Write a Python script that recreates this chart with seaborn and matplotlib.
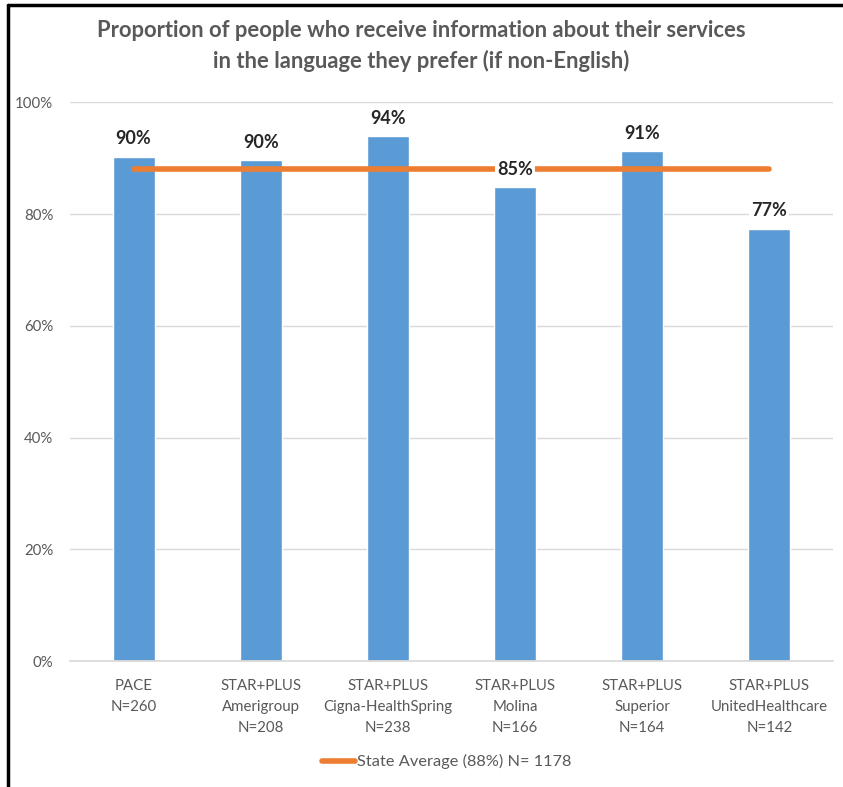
import matplotlib
matplotlib.use("Agg")
import matplotlib.pyplot as plt
from matplotlib.lines import Line2D
import seaborn as sns
import pandas as pd

categories = ["PACE\nN=260", "STAR+PLUS\nAmerigroup\nN=208", "STAR+PLUS\nCigna-HealthSpring\nN=238",
              "STAR+PLUS\nMolina\nN=166", "STAR+PLUS\nSuperior\nN=164", "STAR+PLUS\nUnitedHealthcare\nN=142"]
values = [90.2, 89.6, 93.9, 84.8, 91.2, 77.3]
labels = ["90%", "90%", "94%", "85%", "91%", "77%"]
state_avg = 88.0
legend_label = "State Average (88%) N= 1178"
title = "Proportion of people who receive information about their services\nin the language they prefer (if non-English)"

sns.set_theme(style="white")
plt.rcParams['font.family'] = ['Lato', 'DejaVu Sans']

BLUE = "#5B9BD5"
ORANGE = "#ED7D31"
GRAY = "#595959"

fig = plt.figure(figsize=(8.43, 7.87), dpi=100)
ax = fig.add_axes([0.083, 0.160, 0.905, 0.710])

df = pd.DataFrame({"cat": categories, "val": values})
sns.barplot(data=df, x="cat", y="val", color=BLUE, saturation=1, width=0.33, ax=ax, zorder=2)

ax.plot(range(len(categories)), [state_avg] * len(categories), color=ORANGE, lw=4,
        solid_capstyle="round", zorder=3)

texts = ax.bar_label(ax.containers[0], labels=labels, padding=7, fontsize=13,
                     fontweight="bold", color="#262626", zorder=5)
for t in texts:
    t.set_bbox(dict(facecolor="white", edgecolor="none", pad=1.5))

ax.set_ylim(0, 100)
ax.set_xlim(-0.5, len(categories) - 0.5)
ax.set_yticks([0, 20, 40, 60, 80, 100])
ax.set_yticklabels(["0%", "20%", "40%", "60%", "80%", "100%"])
ax.yaxis.grid(True, color="#D9D9D9", lw=1, zorder=0)
ax.set_axisbelow(True)
for s in ax.spines.values():
    s.set_visible(False)
ax.spines["bottom"].set_visible(True)
ax.spines["bottom"].set_color("#D9D9D9")
ax.tick_params(axis="both", length=0, labelsize=10.8, labelcolor=GRAY)
ax.tick_params(axis="x", pad=13)
ax.tick_params(axis="y", pad=12)
for t in ax.get_xticklabels():
    t.set_linespacing(1.65)
ax.set_xlabel("")
ax.set_ylabel("")

fig.text(0.5, 0.975, title, ha="center", va="top", fontsize=15.8, fontweight="bold",
         color=GRAY, linespacing=1.5)

handle = Line2D([], [], color=ORANGE, lw=4)
fig.legend([handle], [legend_label], loc="center", bbox_to_anchor=(0.53, 0.032), frameon=False,
           fontsize=11.8, labelcolor=GRAY, handlelength=2.0, handletextpad=0.1)

# frame lines (top and left)
fig.add_artist(Line2D([0.009, 0.009], [0, 0.994], transform=fig.transFigure, color="black", lw=2.5))
fig.add_artist(Line2D([0.009, 1.0], [0.994, 0.994], transform=fig.transFigure, color="black", lw=2.5))

fig.savefig("out.png", dpi=100, facecolor="white")
